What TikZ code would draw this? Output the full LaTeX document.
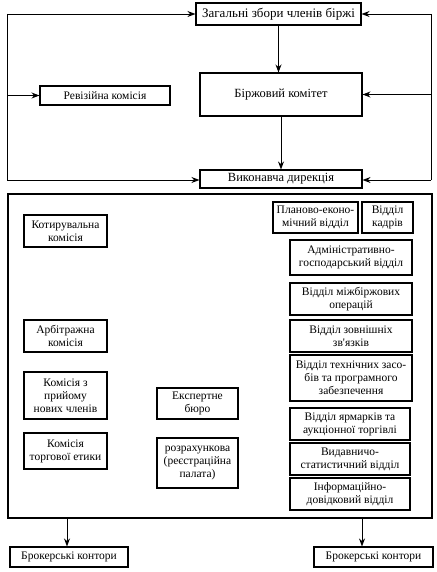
\documentclass[tikz,border=0pt]{standalone}
\usepackage{fontspec}
\setmainfont{Liberation Serif}
\newfontfamily\plainserif{Liberation Serif}
\usetikzlibrary{arrows.meta}
\begin{document}
\begin{tikzpicture}[x=1pt,y=-1pt,
  bx/.style={draw,line width=1.1pt,align=center,inner sep=0.5pt,font=\fontsize{11.5}{13}\selectfont},
  bigt/.style={font=\fontsize{12.5}{14}\selectfont},
  ln/.style={line width=0.9pt},
  arr/.style={line width=0.9pt,-{Stealth[length=8pt,width=6pt]}}]
\useasboundingbox (0,0) rectangle (436,572);
% top part
\node[bx,minimum width=165pt,minimum height=22pt,font=\fontsize{13}{15}\selectfont] (top) at (278.5,14) {Загальні збори членів біржі};
\node[bx,minimum width=130pt,minimum height=19pt] (rev) at (105,95.5) {Ревізійна комісія};
\node[bx,bigt,minimum width=162pt,minimum height=43pt] (bk) at (281,94.5) {Біржовий комітет};
\node[bx,bigt,minimum width=162pt,minimum height=18pt] (vd) at (281,179) {Виконавча дирекція};
\coordinate (L1) at (7,14);
\coordinate (L2) at (7,180);
\coordinate (R1) at (431,14);
\coordinate (R2) at (431,180);
\draw[ln] (L1) -- (L2);
\draw[ln] (R1) -- (R2);
\draw[arr] (L1) -- (top.west);
\draw[arr] (L1 |- rev.west) -- (rev.west);
\draw[arr] (L2) -- (L2 -| vd.west);
\draw[arr] (R1) -- (top.east);
\draw[arr] (R1 |- bk.east) -- (bk.east);
\draw[arr] (R2) -- (R2 -| vd.east);
\draw[arr] (top.south) -- (top.south |- bk.north);
\draw[arr] (bk.south) -- (bk.south |- vd.north);
% big box
\node[draw,line width=1.1pt,minimum width=424pt,minimum height=324pt,inner sep=0pt] (big) at (220,356) {};
% left column
\node[bx,minimum width=83pt,minimum height=32pt] (kot) at (65.5,231) {Котирувальна\\комісія};
\node[bx,minimum width=83pt,minimum height=32pt] (arb) at (65.5,336) {Арбітражна\\комісія};
\node[bx,minimum width=83pt,minimum height=47pt] (kpr) at (65.5,395.5) {Комісія з\\прийому\\нових членів};
\node[bx,minimum width=83pt,minimum height=36pt] (kte) at (65.5,451) {Комісія\\торгової етики};
% middle
\node[bx,minimum width=81pt,minimum height=31pt] (eks) at (197.5,403.5) {Експертне\\бюро};
\node[bx,minimum width=81pt,minimum height=50pt] (roz) at (197.5,463) {розрахункова\\(реєстраційна\\палата)};
% right column
\node[bx,minimum width=85pt,minimum height=31pt] (plan) at (315.5,217.5) {Планово-еконо-\\мічний відділ};
\node[bx,minimum width=51pt,minimum height=31pt] (kadr) at (387.5,217.5) {Відділ\\кадрів};
\node[bx,minimum width=122pt,minimum height=35pt] (adm) at (351,257.5) {Адміністративно-\\господарський відділ};
\node[bx,minimum width=122pt,minimum height=32pt] (mizh) at (351,299) {Відділ міжбіржових\\операцій};
\node[bx,minimum width=122pt,minimum height=32pt] (zovn) at (351,336) {Відділ зовнішніх\\зв{\plainserif'}язків};
\node[bx,minimum width=122pt,minimum height=46pt] (tekh) at (351,378) {Відділ технічних засо-\\бів та програмного\\забезпечення};
\node[bx,minimum width=120pt,minimum height=32pt] (yarm) at (350,424) {Відділ ярмарків та\\аукціонної торгівлі};
\node[bx,minimum width=120pt,minimum height=32pt] (vyd) at (350,459) {Видавничо-\\статистичний відділ};
\node[bx,minimum width=120pt,minimum height=32pt] (inf) at (350,494) {Інформаційно-\\довідковий відділ};
% brokers
\node[bx,minimum width=118pt,minimum height=20pt] (brL) at (69,557) {Брокерські контори};
\node[bx,minimum width=119pt,minimum height=20pt] (brR) at (373.5,557) {Брокерські контори};
\draw[arr] (big.south -| 67,0) -- (67,0 |- brL.north);
\draw[arr] (big.south -| 362,0) -- (362,0 |- brR.north);
\end{tikzpicture}
\end{document}
